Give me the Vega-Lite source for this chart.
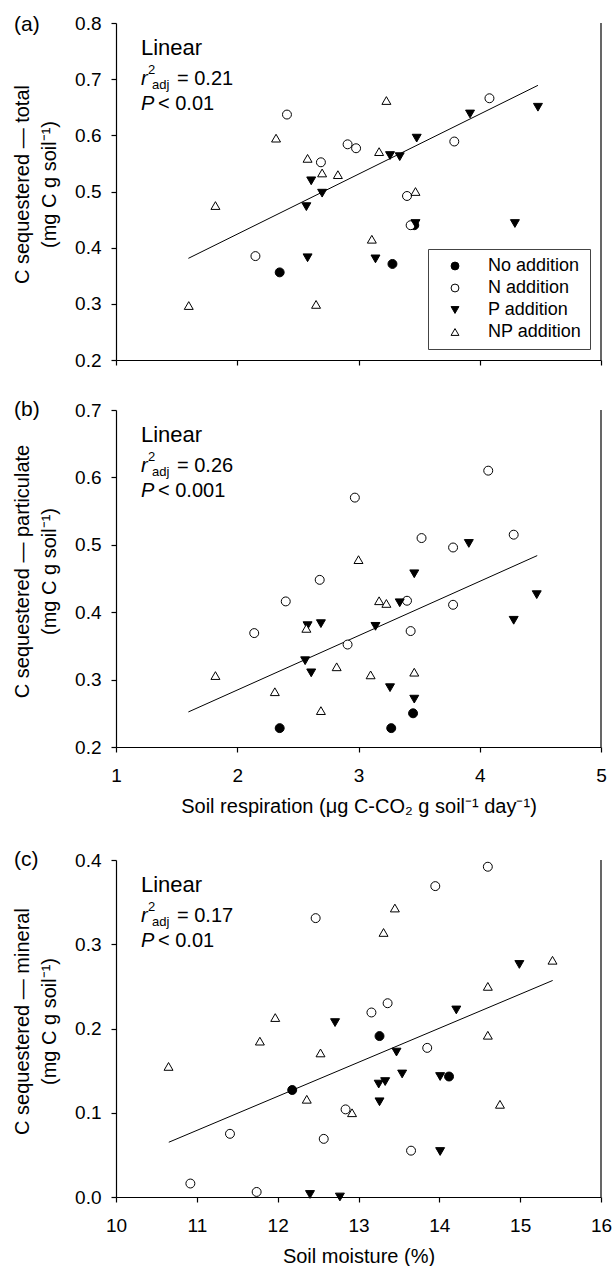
{
  "$schema": "https://vega.github.io/schema/vega-lite/v6.json",
  "padding": {"left": 12, "top": 14, "right": 0, "bottom": 0},
  "background": "white",
  "config": {
    "font": "Liberation Sans",
    "view": {"stroke": null},
    "axis": {"domainColor": "black", "tickColor": "black", "tickSize": 5, "grid": false, "labelFont": "Liberation Sans", "labelFontSize": 19, "labelColor": "black", "titleFont": "Liberation Sans", "titleFontSize": 20, "titleFontWeight": "normal", "titleColor": "black", "labelFlush": false, "labelOverlap": false, "domainWidth": 1.2, "tickWidth": 1.2},
    "axisX": {"labelPadding": 14, "titlePadding": 11},
    "axisY": {"labelPadding": 10, "titlePadding": 15, "titleLineHeight": 27, "titleY": 161},
    "legend": {"orient": "bottom-right", "offset": 11, "strokeColor": "#444", "strokeWidth": 1, "padding": 8, "labelFont": "Liberation Sans", "labelFontSize": 18, "labelColor": "black", "symbolSize": 62, "symbolStrokeWidth": 1, "rowPadding": 4, "labelOffset": 24, "symbolOffset": 10}
  },
  "datasets": {
    "pts": [
      {"panel": "a", "treat": "No addition", "x": 2.35, "y": 0.356},
      {"panel": "a", "treat": "No addition", "x": 3.28, "y": 0.371},
      {"panel": "a", "treat": "No addition", "x": 3.46, "y": 0.44},
      {"panel": "a", "treat": "N addition", "x": 2.15, "y": 0.385},
      {"panel": "a", "treat": "N addition", "x": 2.41, "y": 0.637},
      {"panel": "a", "treat": "N addition", "x": 2.69, "y": 0.552},
      {"panel": "a", "treat": "N addition", "x": 2.91, "y": 0.584},
      {"panel": "a", "treat": "N addition", "x": 2.98, "y": 0.577},
      {"panel": "a", "treat": "N addition", "x": 3.40, "y": 0.492},
      {"panel": "a", "treat": "N addition", "x": 3.43, "y": 0.44},
      {"panel": "a", "treat": "N addition", "x": 3.79, "y": 0.589},
      {"panel": "a", "treat": "N addition", "x": 4.08, "y": 0.666},
      {"panel": "a", "treat": "P addition", "x": 2.57, "y": 0.473},
      {"panel": "a", "treat": "P addition", "x": 2.61, "y": 0.519},
      {"panel": "a", "treat": "P addition", "x": 2.70, "y": 0.497},
      {"panel": "a", "treat": "P addition", "x": 2.58, "y": 0.382},
      {"panel": "a", "treat": "P addition", "x": 3.14, "y": 0.38},
      {"panel": "a", "treat": "P addition", "x": 3.26, "y": 0.564},
      {"panel": "a", "treat": "P addition", "x": 3.34, "y": 0.562},
      {"panel": "a", "treat": "P addition", "x": 3.48, "y": 0.595},
      {"panel": "a", "treat": "P addition", "x": 3.47, "y": 0.443},
      {"panel": "a", "treat": "P addition", "x": 3.92, "y": 0.638},
      {"panel": "a", "treat": "P addition", "x": 4.29, "y": 0.443},
      {"panel": "a", "treat": "P addition", "x": 4.48, "y": 0.65},
      {"panel": "a", "treat": "NP addition", "x": 1.60, "y": 0.297},
      {"panel": "a", "treat": "NP addition", "x": 1.82, "y": 0.475},
      {"panel": "a", "treat": "NP addition", "x": 2.32, "y": 0.595},
      {"panel": "a", "treat": "NP addition", "x": 2.58, "y": 0.559},
      {"panel": "a", "treat": "NP addition", "x": 2.70, "y": 0.533},
      {"panel": "a", "treat": "NP addition", "x": 2.83, "y": 0.53},
      {"panel": "a", "treat": "NP addition", "x": 2.65, "y": 0.299},
      {"panel": "a", "treat": "NP addition", "x": 3.11, "y": 0.415},
      {"panel": "a", "treat": "NP addition", "x": 3.17, "y": 0.571},
      {"panel": "a", "treat": "NP addition", "x": 3.23, "y": 0.662},
      {"panel": "a", "treat": "NP addition", "x": 3.47, "y": 0.5},
      {"panel": "b", "treat": "No addition", "x": 2.35, "y": 0.228},
      {"panel": "b", "treat": "No addition", "x": 3.27, "y": 0.228},
      {"panel": "b", "treat": "No addition", "x": 3.45, "y": 0.25},
      {"panel": "b", "treat": "N addition", "x": 2.14, "y": 0.369},
      {"panel": "b", "treat": "N addition", "x": 2.40, "y": 0.416},
      {"panel": "b", "treat": "N addition", "x": 2.68, "y": 0.448},
      {"panel": "b", "treat": "N addition", "x": 2.91, "y": 0.352},
      {"panel": "b", "treat": "N addition", "x": 2.97, "y": 0.57},
      {"panel": "b", "treat": "N addition", "x": 3.40, "y": 0.417},
      {"panel": "b", "treat": "N addition", "x": 3.43, "y": 0.372},
      {"panel": "b", "treat": "N addition", "x": 3.52, "y": 0.51},
      {"panel": "b", "treat": "N addition", "x": 3.78, "y": 0.496},
      {"panel": "b", "treat": "N addition", "x": 3.78, "y": 0.411},
      {"panel": "b", "treat": "N addition", "x": 4.07, "y": 0.61},
      {"panel": "b", "treat": "N addition", "x": 4.28, "y": 0.515},
      {"panel": "b", "treat": "P addition", "x": 2.56, "y": 0.328},
      {"panel": "b", "treat": "P addition", "x": 2.58, "y": 0.38},
      {"panel": "b", "treat": "P addition", "x": 2.61, "y": 0.31},
      {"panel": "b", "treat": "P addition", "x": 2.69, "y": 0.383},
      {"panel": "b", "treat": "P addition", "x": 3.14, "y": 0.379},
      {"panel": "b", "treat": "P addition", "x": 3.26, "y": 0.288},
      {"panel": "b", "treat": "P addition", "x": 3.34, "y": 0.414},
      {"panel": "b", "treat": "P addition", "x": 3.46, "y": 0.457},
      {"panel": "b", "treat": "P addition", "x": 3.46, "y": 0.271},
      {"panel": "b", "treat": "P addition", "x": 3.91, "y": 0.502},
      {"panel": "b", "treat": "P addition", "x": 4.28, "y": 0.388},
      {"panel": "b", "treat": "P addition", "x": 4.47, "y": 0.426},
      {"panel": "b", "treat": "NP addition", "x": 1.82, "y": 0.306},
      {"panel": "b", "treat": "NP addition", "x": 2.31, "y": 0.282},
      {"panel": "b", "treat": "NP addition", "x": 2.57, "y": 0.376},
      {"panel": "b", "treat": "NP addition", "x": 2.69, "y": 0.254},
      {"panel": "b", "treat": "NP addition", "x": 2.82, "y": 0.319},
      {"panel": "b", "treat": "NP addition", "x": 3.00, "y": 0.478},
      {"panel": "b", "treat": "NP addition", "x": 3.10, "y": 0.307},
      {"panel": "b", "treat": "NP addition", "x": 3.17, "y": 0.417},
      {"panel": "b", "treat": "NP addition", "x": 3.23, "y": 0.413},
      {"panel": "b", "treat": "NP addition", "x": 3.46, "y": 0.311},
      {"panel": "c", "treat": "No addition", "x": 12.18, "y": 0.127},
      {"panel": "c", "treat": "No addition", "x": 13.26, "y": 0.191},
      {"panel": "c", "treat": "No addition", "x": 14.12, "y": 0.143},
      {"panel": "c", "treat": "N addition", "x": 10.92, "y": 0.016},
      {"panel": "c", "treat": "N addition", "x": 11.41, "y": 0.075},
      {"panel": "c", "treat": "N addition", "x": 11.74, "y": 0.006},
      {"panel": "c", "treat": "N addition", "x": 12.47, "y": 0.331},
      {"panel": "c", "treat": "N addition", "x": 12.57, "y": 0.069},
      {"panel": "c", "treat": "N addition", "x": 12.84, "y": 0.104},
      {"panel": "c", "treat": "N addition", "x": 13.16, "y": 0.219},
      {"panel": "c", "treat": "N addition", "x": 13.36, "y": 0.23},
      {"panel": "c", "treat": "N addition", "x": 13.65, "y": 0.055},
      {"panel": "c", "treat": "N addition", "x": 13.85, "y": 0.177},
      {"panel": "c", "treat": "N addition", "x": 13.95, "y": 0.369},
      {"panel": "c", "treat": "N addition", "x": 14.60, "y": 0.392},
      {"panel": "c", "treat": "P addition", "x": 12.40, "y": 0.003},
      {"panel": "c", "treat": "P addition", "x": 12.71, "y": 0.207},
      {"panel": "c", "treat": "P addition", "x": 12.77, "y": 0.0},
      {"panel": "c", "treat": "P addition", "x": 13.25, "y": 0.134},
      {"panel": "c", "treat": "P addition", "x": 13.26, "y": 0.113},
      {"panel": "c", "treat": "P addition", "x": 13.33, "y": 0.137},
      {"panel": "c", "treat": "P addition", "x": 13.47, "y": 0.172},
      {"panel": "c", "treat": "P addition", "x": 13.54, "y": 0.146},
      {"panel": "c", "treat": "P addition", "x": 14.01, "y": 0.143},
      {"panel": "c", "treat": "P addition", "x": 14.01, "y": 0.054},
      {"panel": "c", "treat": "P addition", "x": 14.21, "y": 0.222},
      {"panel": "c", "treat": "P addition", "x": 14.99, "y": 0.276},
      {"panel": "c", "treat": "NP addition", "x": 10.65, "y": 0.155},
      {"panel": "c", "treat": "NP addition", "x": 11.78, "y": 0.185},
      {"panel": "c", "treat": "NP addition", "x": 11.97, "y": 0.213},
      {"panel": "c", "treat": "NP addition", "x": 12.36, "y": 0.116},
      {"panel": "c", "treat": "NP addition", "x": 12.53, "y": 0.171},
      {"panel": "c", "treat": "NP addition", "x": 12.92, "y": 0.1},
      {"panel": "c", "treat": "NP addition", "x": 13.31, "y": 0.314},
      {"panel": "c", "treat": "NP addition", "x": 13.45, "y": 0.343},
      {"panel": "c", "treat": "NP addition", "x": 14.60, "y": 0.25},
      {"panel": "c", "treat": "NP addition", "x": 14.60, "y": 0.192},
      {"panel": "c", "treat": "NP addition", "x": 14.75, "y": 0.11},
      {"panel": "c", "treat": "NP addition", "x": 15.40, "y": 0.281}
    ],
    "fit": [
      {"panel": "a", "x": 1.597, "y": 0.381},
      {"panel": "a", "x": 4.48, "y": 0.689},
      {"panel": "b", "x": 1.597, "y": 0.252},
      {"panel": "b", "x": 4.474, "y": 0.484},
      {"panel": "c", "x": 10.653, "y": 0.065},
      {"panel": "c", "x": 15.402, "y": 0.257}
    ],
    "stats": [
      {"panel": "a", "letter": "(a)", "model": "Linear", "r2": "= 0.21", "p": "< 0.01"},
      {"panel": "b", "letter": "(b)", "model": "Linear", "r2": "= 0.26", "p": "< 0.001"},
      {"panel": "c", "letter": "(c)", "model": "Linear", "r2": "= 0.17", "p": "< 0.01"}
    ]
  },
  "resolve": {"scale": {"x": "independent", "y": "independent", "shape": "independent", "fill": "independent", "stroke": "independent"}, "axis": {"x": "independent", "y": "independent"}, "legend": {"shape": "independent", "fill": "independent", "stroke": "independent"}},
  "spacing": 33,
  "vconcat": [
    {
      "spacing": 29,
      "resolve": {"scale": {"x": "independent", "y": "independent", "shape": "independent", "fill": "independent", "stroke": "independent"}, "axis": {"x": "independent", "y": "independent"}, "legend": {"shape": "independent", "fill": "independent", "stroke": "independent"}},
      "vconcat": [
        {
          "width": 485, "height": 337,
          "layer": [
            {
              "data": {"name": "fit"}, "transform": [{"filter": "datum.panel === 'a'"}],
              "mark": {"type": "line", "color": "black", "strokeWidth": 1},
              "encoding": {
                "x": {"field": "x", "type": "quantitative", "scale": {"domain": [1, 5], "nice": false, "zero": false}, "axis": {"values": [1, 2, 3, 4, 5], "labels": false, "title": null}},
                "y": {"field": "y", "type": "quantitative", "scale": {"domain": [0.2, 0.8], "nice": false, "zero": false}, "axis": {"values": [0.2, 0.3, 0.4, 0.5, 0.6, 0.7, 0.8], "format": ".1f", "title": ["C sequestered — total", "(mg C g soil⁻¹)"]}}
              }
            },
            {
              "data": {"name": "pts"}, "transform": [{"filter": "datum.panel === 'a'"}],
              "mark": {"type": "point", "filled": true, "size": 80, "strokeWidth": 1, "opacity": 1},
              "encoding": {
                "x": {"field": "x", "type": "quantitative"},
                "y": {"field": "y", "type": "quantitative"},
                "shape": {"field": "treat", "type": "nominal", "scale": {"domain": ["No addition", "N addition", "P addition", "NP addition"], "range": ["circle", "circle", "triangle-down", "triangle-up"]}, "legend": {"title": null}},
                "fill": {"field": "treat", "type": "nominal", "scale": {"domain": ["No addition", "N addition", "P addition", "NP addition"], "range": ["black", "white", "black", "white"]}, "legend": {"title": null}},
                "stroke": {"field": "treat", "type": "nominal", "scale": {"domain": ["No addition", "N addition", "P addition", "NP addition"], "range": ["black", "black", "black", "black"]}, "legend": {"title": null}}
              }
            },
            {
              "data": {"name": "stats"}, "transform": [{"filter": "datum.panel === 'a'"}],
              "layer": [
                {"mark": {"type": "rule", "color": "black", "strokeWidth": 1.2}, "encoding": {"x": {"datum": 5}}},
                {"mark": {"type": "text", "align": "left", "baseline": "middle", "dx": -102, "dy": 2, "fontSize": 21}, "encoding": {"x": {"datum": 1}, "y": {"datum": 0.8}, "text": {"field": "letter"}}},
                {"mark": {"type": "text", "align": "left", "baseline": "alphabetic", "dx": 25, "dy": 32, "fontSize": 22}, "encoding": {"x": {"datum": 1}, "y": {"datum": 0.8}, "text": {"field": "model"}}},
                {"mark": {"type": "text", "align": "left", "baseline": "alphabetic", "dx": 25, "dy": 62, "fontSize": 20, "fontStyle": "italic", "text": "r"}, "encoding": {"x": {"datum": 1}, "y": {"datum": 0.8}}},
                {"mark": {"type": "text", "align": "left", "baseline": "alphabetic", "dx": 32, "dy": 51, "fontSize": 13, "text": "2"}, "encoding": {"x": {"datum": 1}, "y": {"datum": 0.8}}},
                {"mark": {"type": "text", "align": "left", "baseline": "alphabetic", "dx": 36, "dy": 66, "fontSize": 13, "text": "adj"}, "encoding": {"x": {"datum": 1}, "y": {"datum": 0.8}}},
                {"mark": {"type": "text", "align": "left", "baseline": "alphabetic", "dx": 61, "dy": 62, "fontSize": 20}, "encoding": {"x": {"datum": 1}, "y": {"datum": 0.8}, "text": {"field": "r2"}}},
                {"mark": {"type": "text", "align": "left", "baseline": "alphabetic", "dx": 25, "dy": 87, "fontSize": 20, "fontStyle": "italic", "text": "P"}, "encoding": {"x": {"datum": 1}, "y": {"datum": 0.8}}},
                {"mark": {"type": "text", "align": "left", "baseline": "alphabetic", "dx": 42, "dy": 87, "fontSize": 20}, "encoding": {"x": {"datum": 1}, "y": {"datum": 0.8}, "text": {"field": "p"}}}
              ]
            }
          ]
        },
        {
          "width": 485, "height": 337,
          "layer": [
            {
              "data": {"name": "fit"}, "transform": [{"filter": "datum.panel === 'b'"}],
              "mark": {"type": "line", "color": "black", "strokeWidth": 1},
              "encoding": {
                "x": {"field": "x", "type": "quantitative", "scale": {"domain": [1, 5], "nice": false, "zero": false}, "axis": {"values": [1, 2, 3, 4, 5], "format": "d", "title": "Soil respiration (μg C-CO₂ g soil⁻¹ day⁻¹)"}},
                "y": {"field": "y", "type": "quantitative", "scale": {"domain": [0.2, 0.7], "nice": false, "zero": false}, "axis": {"values": [0.2, 0.3, 0.4, 0.5, 0.6, 0.7], "format": ".1f", "title": ["C sequestered — particulate", "(mg C g soil⁻¹)"]}}
              }
            },
            {
              "data": {"name": "pts"}, "transform": [{"filter": "datum.panel === 'b'"}],
              "mark": {"type": "point", "filled": true, "size": 80, "strokeWidth": 1, "opacity": 1},
              "encoding": {
                "x": {"field": "x", "type": "quantitative"},
                "y": {"field": "y", "type": "quantitative"},
                "shape": {"field": "treat", "type": "nominal", "scale": {"domain": ["No addition", "N addition", "P addition", "NP addition"], "range": ["circle", "circle", "triangle-down", "triangle-up"]}, "legend": null},
                "fill": {"field": "treat", "type": "nominal", "scale": {"domain": ["No addition", "N addition", "P addition", "NP addition"], "range": ["black", "white", "black", "white"]}, "legend": null},
                "stroke": {"field": "treat", "type": "nominal", "scale": {"domain": ["No addition", "N addition", "P addition", "NP addition"], "range": ["black", "black", "black", "black"]}, "legend": null}
              }
            },
            {
              "data": {"name": "stats"}, "transform": [{"filter": "datum.panel === 'b'"}],
              "layer": [
                {"mark": {"type": "rule", "color": "black", "strokeWidth": 1.2}, "encoding": {"x": {"datum": 5}}},
                {"mark": {"type": "text", "align": "left", "baseline": "middle", "dx": -102, "dy": 0, "fontSize": 21}, "encoding": {"x": {"datum": 1}, "y": {"datum": 0.7}, "text": {"field": "letter"}}},
                {"mark": {"type": "text", "align": "left", "baseline": "alphabetic", "dx": 25, "dy": 32, "fontSize": 22}, "encoding": {"x": {"datum": 1}, "y": {"datum": 0.7}, "text": {"field": "model"}}},
                {"mark": {"type": "text", "align": "left", "baseline": "alphabetic", "dx": 25, "dy": 62, "fontSize": 20, "fontStyle": "italic", "text": "r"}, "encoding": {"x": {"datum": 1}, "y": {"datum": 0.7}}},
                {"mark": {"type": "text", "align": "left", "baseline": "alphabetic", "dx": 32, "dy": 51, "fontSize": 13, "text": "2"}, "encoding": {"x": {"datum": 1}, "y": {"datum": 0.7}}},
                {"mark": {"type": "text", "align": "left", "baseline": "alphabetic", "dx": 36, "dy": 66, "fontSize": 13, "text": "adj"}, "encoding": {"x": {"datum": 1}, "y": {"datum": 0.7}}},
                {"mark": {"type": "text", "align": "left", "baseline": "alphabetic", "dx": 61, "dy": 62, "fontSize": 20}, "encoding": {"x": {"datum": 1}, "y": {"datum": 0.7}, "text": {"field": "r2"}}},
                {"mark": {"type": "text", "align": "left", "baseline": "alphabetic", "dx": 25, "dy": 87, "fontSize": 20, "fontStyle": "italic", "text": "P"}, "encoding": {"x": {"datum": 1}, "y": {"datum": 0.7}}},
                {"mark": {"type": "text", "align": "left", "baseline": "alphabetic", "dx": 42, "dy": 87, "fontSize": 20}, "encoding": {"x": {"datum": 1}, "y": {"datum": 0.7}, "text": {"field": "p"}}}
              ]
            }
          ]
        }
      ]
    },
    {
      "width": 485, "height": 337,
      "layer": [
        {
          "data": {"name": "fit"}, "transform": [{"filter": "datum.panel === 'c'"}],
          "mark": {"type": "line", "color": "black", "strokeWidth": 1},
          "encoding": {
            "x": {"field": "x", "type": "quantitative", "scale": {"domain": [10, 16], "nice": false, "zero": false}, "axis": {"values": [10, 11, 12, 13, 14, 15, 16], "format": "d", "title": "Soil moisture (%)"}},
            "y": {"field": "y", "type": "quantitative", "scale": {"domain": [0, 0.4], "nice": false, "zero": false}, "axis": {"values": [0, 0.1, 0.2, 0.3, 0.4], "format": ".1f", "title": ["C sequestered — mineral", "(mg C g soil⁻¹)"]}}
          }
        },
        {
          "data": {"name": "pts"}, "transform": [{"filter": "datum.panel === 'c'"}],
          "mark": {"type": "point", "filled": true, "size": 80, "strokeWidth": 1, "opacity": 1},
          "encoding": {
            "x": {"field": "x", "type": "quantitative"},
            "y": {"field": "y", "type": "quantitative"},
            "shape": {"field": "treat", "type": "nominal", "scale": {"domain": ["No addition", "N addition", "P addition", "NP addition"], "range": ["circle", "circle", "triangle-down", "triangle-up"]}, "legend": null},
            "fill": {"field": "treat", "type": "nominal", "scale": {"domain": ["No addition", "N addition", "P addition", "NP addition"], "range": ["black", "white", "black", "white"]}, "legend": null},
            "stroke": {"field": "treat", "type": "nominal", "scale": {"domain": ["No addition", "N addition", "P addition", "NP addition"], "range": ["black", "black", "black", "black"]}, "legend": null}
          }
        },
        {
          "data": {"name": "stats"}, "transform": [{"filter": "datum.panel === 'c'"}],
          "layer": [
            {"mark": {"type": "rule", "color": "black", "strokeWidth": 1.2}, "encoding": {"x": {"datum": 16}}},
            {"mark": {"type": "text", "align": "left", "baseline": "middle", "dx": -102, "dy": 0, "fontSize": 21}, "encoding": {"x": {"datum": 10}, "y": {"datum": 0.4}, "text": {"field": "letter"}}},
            {"mark": {"type": "text", "align": "left", "baseline": "alphabetic", "dx": 25, "dy": 32, "fontSize": 22}, "encoding": {"x": {"datum": 10}, "y": {"datum": 0.4}, "text": {"field": "model"}}},
            {"mark": {"type": "text", "align": "left", "baseline": "alphabetic", "dx": 25, "dy": 62, "fontSize": 20, "fontStyle": "italic", "text": "r"}, "encoding": {"x": {"datum": 10}, "y": {"datum": 0.4}}},
            {"mark": {"type": "text", "align": "left", "baseline": "alphabetic", "dx": 32, "dy": 51, "fontSize": 13, "text": "2"}, "encoding": {"x": {"datum": 10}, "y": {"datum": 0.4}}},
            {"mark": {"type": "text", "align": "left", "baseline": "alphabetic", "dx": 36, "dy": 66, "fontSize": 13, "text": "adj"}, "encoding": {"x": {"datum": 10}, "y": {"datum": 0.4}}},
            {"mark": {"type": "text", "align": "left", "baseline": "alphabetic", "dx": 61, "dy": 62, "fontSize": 20}, "encoding": {"x": {"datum": 10}, "y": {"datum": 0.4}, "text": {"field": "r2"}}},
            {"mark": {"type": "text", "align": "left", "baseline": "alphabetic", "dx": 25, "dy": 87, "fontSize": 20, "fontStyle": "italic", "text": "P"}, "encoding": {"x": {"datum": 10}, "y": {"datum": 0.4}}},
            {"mark": {"type": "text", "align": "left", "baseline": "alphabetic", "dx": 42, "dy": 87, "fontSize": 20}, "encoding": {"x": {"datum": 10}, "y": {"datum": 0.4}, "text": {"field": "p"}}}
          ]
        }
      ]
    }
  ]
}
